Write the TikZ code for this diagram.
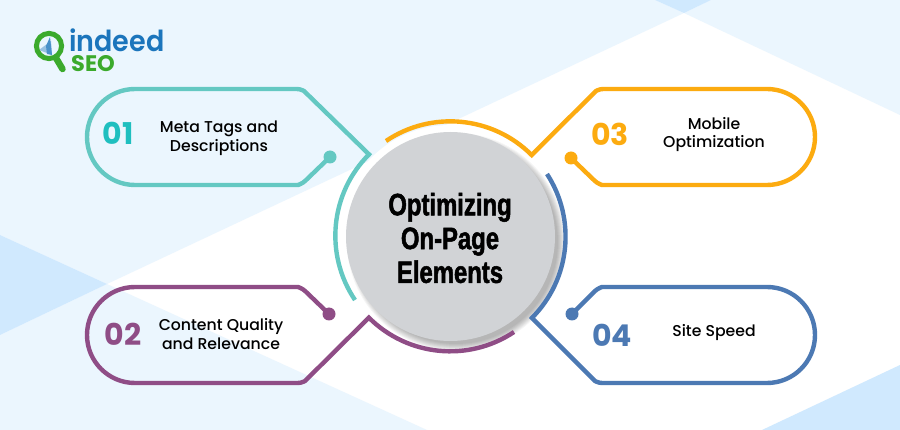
\documentclass[tikz,border=0pt]{standalone}
\usepackage{fontspec}
\setmainfont{Poppins}
\newfontfamily\popmed{Poppins Medium}
\newfontfamily\logofont[FakeStretch=0.93]{Poppins SemiBold}
\newfontfamily\titlefont[FakeStretch=0.77,FakeBold=1.6]{Liberation Sans Bold}
\definecolor{palebg}{HTML}{EBF6FE}
\definecolor{darkbg}{HTML}{D0E9FE}
\definecolor{discgray}{HTML}{D1D3D6}
\definecolor{tealtag}{HTML}{64C8C2}
\definecolor{tealnum}{HTML}{1FBFBF}
\definecolor{orangetag}{HTML}{FCAB10}
\definecolor{purpletag}{HTML}{8F4D86}
\definecolor{bluetag}{HTML}{4C79B3}
\definecolor{logoblue}{HTML}{1B75BC}
\definecolor{logogreen}{HTML}{3BAA2C}
\tikzset{
    tagline/.style={line width=4.4pt, line join=miter},
    tagnum/.style={font=\fontsize{30}{30}\selectfont\bfseries, anchor=center},
    tagtext/.style={font=\fontsize{15.7}{18.8}\selectfont\popmed, align=center, text=black},
    dotend/.style={circle, inner sep=0pt, minimum size=13pt},
}
\begin{document}
\begin{tikzpicture}[x=1pt, y=-1pt]
    \useasboundingbox (0,0) rectangle (900,430);
    % background
    \fill[white] (0,0) rectangle (900,430);
    \fill[palebg] (0,0) -- (655,0) -- (684,13) -- (107,284) -- (0,235) -- cycle;
    \fill[palebg] (711,0) -- (900,0) -- (900,115) -- (684,13) -- cycle;
    \fill[palebg] (0,335) -- (107,284) -- (427,430) -- (0,430) -- cycle;
    \fill[darkbg] (655,0) -- (711,0) -- (684,13) -- cycle;
    \fill[darkbg] (0,235) -- (107,284) -- (0,335) -- cycle;
    \fill[darkbg] (762,430) -- (900,365) -- (900,430) -- cycle;

    % logo
    \fill[logoblue!45] (39,50) -- (51,41) -- (52,55) -- cycle;
    \fill[logoblue!80] (46,46) -- (50,37) -- (52,55) -- (47,54) -- cycle;
    \draw[logogreen, line width=5pt] (49,46) circle (12.6);
    \draw[logogreen, line width=6.5pt, line cap=round] (56,58) -- (62.5,69);
    \node[font=\fontsize{29}{29}\selectfont\logofont, text=logoblue, anchor=base west, inner sep=0pt] (logotop) at (69,52) {indeed};
    \node[font=\fontsize{22.5}{22.5}\selectfont\bfseries, text=logogreen, anchor=base west, inner sep=0pt] (logosub) at (71,72) {SEO};

    % centre disc
    \coordinate (hub) at (450,236);
    \fill[white] (hub) circle (111);
    \foreach \rr in {102,103,...,109}
        \fill[black, opacity=0.04] (456,242) circle (\rr);
    \node[circle, fill=discgray, minimum size=209pt, inner sep=0pt] (disc) at (450.5,236.5) {};
    \node[font=\fontsize{31}{33.8}\selectfont\titlefont, align=center, text=black] (title) at (450,238) {Optimizing\\On-Page\\Elements};

    % tag 01
    \draw[tagline, tealtag, line cap=butt] (355,300) arc[start angle=146, end angle=225, radius=115]
        -- (304,91) [rounded corners=3pt] -- (300,89) [sharp corners] -- (135,89)
        arc[start angle=270, end angle=90, radius=48] -- (298,185) [rounded corners=3pt] -- (303,183) [sharp corners] -- (330,157);
    \node[dotend, fill=tealtag] (dot01) at (330,157) {};
    \node[tagnum, text=tealnum] (num01) at (118,133.5) {01};
    \node[tagtext] (txt01) at (219,138.5) {Meta Tags and\\Descriptions};

    % tag 02
    \draw[tagline, purpletag] (514,332) arc[start angle=56.3, end angle=135, radius=115]
        -- (305,381) [rounded corners=3pt] -- (301,383) [sharp corners] -- (135,383)
        arc[start angle=90, end angle=270, radius=48] -- (298,287) [rounded corners=3pt] -- (303,289) [sharp corners] -- (329,314);
    \node[dotend, fill=purpletag] (dot02) at (329,314) {};
    \node[tagnum, text=purpletag] (num02) at (123,334.5) {02};
    \node[tagtext] (txt02) at (221,334) {Content Quality\\and Relevance};

    % tag 03
    \draw[tagline, orangetag] (386,141) arc[start angle=236, end angle=315, radius=115]
        -- (596,91) [rounded corners=3pt] -- (600,89) [sharp corners] -- (767,89)
        arc[start angle=-90, end angle=90, radius=48] -- (602,185) [rounded corners=3pt] -- (597,183) [sharp corners] -- (571,158);
    \node[dotend, fill=orangetag] (dot03) at (571,158) {};
    \node[tagnum, text=orangetag] (num03) at (610,134) {03};
    \node[tagtext] (txt03) at (714,134.5) {Mobile\\Optimization};

    % tag 04
    \draw[tagline, bluetag] (547,174) arc[start angle=-33, end angle=45, radius=115]
        -- (595,381) [rounded corners=3pt] -- (599,383) [sharp corners] -- (767,383)
        arc[start angle=90, end angle=-90, radius=48] -- (602,287) [rounded corners=3pt] -- (597,289) [sharp corners] -- (572,314);
    \node[dotend, fill=bluetag] (dot04) at (572,314) {};
    \node[tagnum, text=bluetag] (num04) at (612,335) {04};
    \node[tagtext] (txt04) at (714,333) {Site Speed};
\end{tikzpicture}
\end{document}
